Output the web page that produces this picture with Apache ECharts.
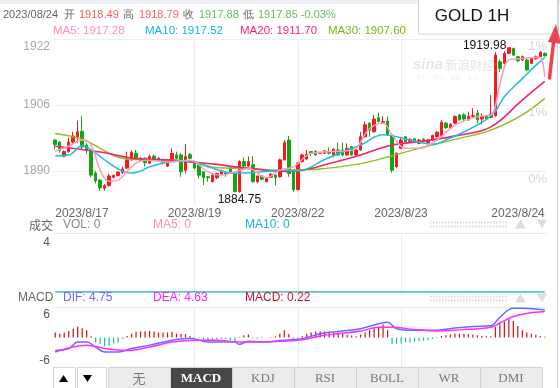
<!DOCTYPE html>
<html><head><meta charset="utf-8">
<script src="https://cdn.jsdelivr.net/npm/echarts@6/dist/echarts.min.js"></script>
<style>html,body{margin:0;padding:0;background:#fff;overflow:hidden}#c{width:560px;height:388px}</style>
</head><body><div id="c"></div>
<script>
// ---------- DATA ----------
// candles: [open, close, low, high]
const candles = [
[1897.5,1896.4,1895.2,1897.7],[1897.0,1894.9,1894.5,1897.3],[1893.6,1894.7,1893.3,1895.0],[1894.7,1897.0,1894.4,1898.1],
[1897.0,1898.5,1896.6,1899.5],[1898.3,1899.5,1896.8,1902.2],[1899.6,1895.8,1895.3,1903.3],[1896.3,1895.0,1894.2,1896.8],
[1895.0,1889.0,1888.5,1895.5],[1889.5,1887.6,1887.0,1890.0],[1887.8,1885.9,1885.2,1888.0],[1885.8,1886.5,1885.2,1886.8],
[1886.5,1888.8,1886.2,1889.4],[1888.5,1888.9,1888.2,1889.2],[1888.9,1889.7,1888.7,1890.0],[1889.6,1890.5,1889.3,1891.0],
[1890.7,1892.7,1890.5,1894.7],[1892.7,1894.5,1892.5,1895.0],[1894.3,1893.1,1892.9,1895.1],[1893.1,1892.5,1892.3,1893.4],
[1893.1,1892.0,1891.1,1893.3],[1891.9,1893.5,1891.7,1894.0],[1893.6,1892.7,1892.5,1894.0],[1893.1,1892.7,1892.4,1893.3],
[1892.7,1891.9,1891.6,1893.0],[1891.2,1892.3,1891.0,1892.6],[1892.7,1894.3,1892.5,1895.5],[1893.9,1893.1,1892.8,1894.7],
[1893.9,1889.8,1888.6,1894.3],[1890.2,1893.5,1889.4,1896.5],[1894.0,1893.1,1892.8,1894.4],[1891.9,1890.7,1890.4,1892.3],
[1891.5,1889.0,1888.2,1891.8],[1889.8,1888.4,1886.6,1890.0],[1888.6,1888.4,1887.4,1888.8],[1887.4,1889.0,1887.2,1889.2],
[1888.4,1889.4,1888.0,1889.6],[1889.3,1890.0,1889.1,1890.3],[1889.6,1889.3,1888.6,1889.8],[1890.7,1889.8,1889.6,1891.0],
[1889.4,1885.0,1884.9,1889.6],[1885.0,1892.3,1884.75,1892.6],[1892.3,1891.2,1891.0,1893.3],[1891.2,1892.3,1891.0,1893.5],
[1891.5,1887.4,1887.2,1893.6],[1887.4,1888.8,1887.0,1889.0],[1888.8,1888.0,1887.8,1889.0],[1887.4,1888.2,1887.2,1888.4],
[1888.5,1889.2,1888.3,1889.5],[1889.0,1888.4,1886.5,1889.2],[1888.6,1892.7,1888.4,1893.0],[1892.7,1896.9,1892.5,1897.5],
[1897.5,1889.4,1888.6,1898.5],[1890.2,1885.5,1885.0,1890.5],[1885.5,1891.9,1885.3,1892.2],[1892.3,1893.9,1892.0,1894.2],
[1892.9,1894.1,1892.7,1895.1],[1894.7,1894.3,1893.6,1894.8],[1894.8,1893.9,1893.7,1895.0],[1894.3,1894.3,1894.1,1894.5],
[1894.3,1894.9,1894.1,1895.1],[1894.7,1894.3,1894.0,1895.7],[1893.9,1895.3,1893.3,1895.5],[1895.1,1893.9,1893.7,1896.9],
[1895.1,1893.9,1893.6,1896.9],[1893.9,1895.5,1893.7,1896.7],[1895.9,1893.9,1893.7,1896.1],[1893.9,1895.1,1893.7,1895.3],
[1895.1,1898.3,1894.9,1899.5],[1898.3,1901.2,1898.1,1902.0],[1901.6,1899.9,1898.3,1901.8],[1899.5,1902.6,1899.3,1903.6],
[1902.9,1902.0,1901.8,1904.1],[1901.8,1902.0,1901.6,1903.3],[1902.1,1898.7,1898.5,1903.2],[1898.7,1890.2,1889.6,1898.9],
[1891.1,1894.3,1890.7,1894.5],[1895.5,1897.5,1895.3,1898.3],[1898.3,1897.1,1896.9,1898.5],[1897.1,1897.7,1896.9,1898.0],
[1897.8,1897.0,1896.8,1898.0],[1896.7,1897.5,1896.5,1897.8],[1897.7,1897.1,1896.9,1897.9],[1896.9,1897.5,1896.7,1897.8],
[1897.5,1898.6,1897.3,1898.8],[1898.3,1899.4,1898.1,1899.7],[1898.6,1901.8,1898.4,1902.4],[1901.6,1900.5,1900.2,1901.9],
[1900.4,1901.3,1900.2,1901.6],[1901.6,1903.2,1901.4,1903.5],[1903.6,1902.4,1902.2,1903.8],[1903.6,1902.6,1902.0,1904.0],
[1902.4,1903.2,1902.2,1904.4],[1903.2,1903.4,1903.0,1905.2],[1904.0,1902.4,1901.6,1904.8],[1902.6,1903.2,1901.3,1904.0],
[1903.4,1902.6,1902.4,1903.6],[1903.0,1903.8,1902.8,1908.4],[1903.4,1918.1,1903.2,1918.8],[1916.5,1914.9,1914.0,1917.0],
[1916.1,1918.5,1915.8,1919.0],[1918.5,1919.9,1918.3,1919.98],[1919.7,1918.1,1917.9,1919.9],[1917.7,1916.7,1916.4,1917.9],
[1916.9,1917.7,1916.7,1918.0],[1916.9,1914.5,1914.2,1917.2],[1916.1,1917.3,1915.9,1917.6],[1917.2,1917.7,1917.0,1918.0],
[1917.7,1918.8,1917.5,1919.0],[1918.49,1917.88,1917.85,1918.79]
];
const categories = candles.map((c, i) => 'K' + i);
const dayLabels = ['2023/8/17','2023/8/19','2023/8/22','2023/8/23','2023/8/24'];
const dayLabelIdx = [0, 31, 54, 77, 109];
const dayLineIdx = [31, 54, 77];
const priceTicks = [1890, 1906, 1922];

// moving averages: [candle index, value]
const ma5Pts = [[0,1894.8],[3,1896.0],[6,1897.5],[8,1896.3],[10,1890.2],[12,1887.5],[14,1887.8],[16,1889.9],[18,1891.9],[20,1892.6],[25,1892.2],[30,1892.6],[34,1889.8],[37,1889.0],[40,1889.8],[43,1890.6],[47,1888.4],[50,1890.2],[53,1891.0],[57,1894.3],[61,1894.7],[66,1895.0],[70,1900.3],[73,1901.6],[75,1898.7],[78,1895.5],[81,1895.5],[85,1897.5],[89,1901.1],[94,1903.2],[97,1903.6],[99,1911.0],[101,1916.9],[104,1917.3],[107,1917.5],[108,1917.5],[109,1912.8]];
const ma10Pts = [[0,1893.7],[3,1893.9],[6,1896.1],[8,1895.1],[12,1891.9],[15,1889.9],[17,1889.5],[19,1890.0],[21,1891.0],[25,1892.1],[30,1892.4],[34,1891.0],[40,1889.5],[46,1889.8],[50,1890.2],[54,1890.0],[60,1892.8],[64,1894.6],[68,1896.3],[73,1898.8],[76,1898.3],[79,1897.5],[84,1896.5],[88,1898.0],[92,1900.0],[96,1902.5],[98,1904.5],[100,1908.0],[104,1912.4],[107,1915.6],[109,1917.5]];
const ma20Pts = [[0,1896.0],[10,1894.6],[18,1893.0],[25,1892.7],[31,1892.1],[36,1891.6],[40,1891.0],[47,1890.2],[50,1889.9],[55,1890.2],[61,1891.8],[68,1893.9],[75,1896.3],[81,1897.1],[90,1898.7],[97,1900.7],[104,1907.2],[109,1911.7]];
const ma30Pts = [[0,1899.1],[6,1897.7],[10,1895.5],[14,1893.3],[18,1892.8],[25,1892.7],[31,1892.2],[36,1890.8],[43,1890.6],[50,1890.2],[55,1890.3],[59,1890.5],[68,1891.8],[75,1893.7],[81,1895.5],[90,1897.9],[97,1899.9],[104,1903.6],[109,1907.6]];

const volume = [0,0,0,0,0,0,0,0,0,0,0,0,0,0,0,0,0,0,0,0,0,0,0,0,0,0,0,0,0,0,0,0,0,0,0,0,0,0,0,0,0,0,0,0,0,0,0,0,0,0,0,0,0,0,0,0,0,0,0,0,0,0,0,0,0,0,0,0,0,0,0,0,0,0,0,0,0,0,0,0,0,0,0,0,0,0,0,0,0,0,0,0,0,0,0,0,0,0,0,0,0,0,0,0,0,0,0,0,0,0];
const volTicks = [4];

const macdHist = [1.3,1.0,1.3,1.7,2.3,2.8,2.4,1.9,0.3,-1.3,-1.7,-2.3,-2.2,-1.6,-1.3,-0.4,
0.4,1.0,1.5,1.6,1.6,1.7,1.6,1.3,1.3,1.3,1.5,1.0,0.9,0.9,0.4,0.1,
-0.2,-0.6,-0.7,-0.6,-0.5,-0.4,-0.4,-0.7,-1.0,0.1,0.6,0.8,-0.2,-0.3,-0.2,0.0,0.1,0.3,1.0,
1.9,0.9,-0.3,0.1,0.4,0.9,1.3,1.6,1.6,1.6,1.5,1.3,1.3,1.0,0.7,0.5,0.3,
0.8,1.3,1.9,2.4,2.8,3.4,2.0,-1.7,-1.7,-1.6,-1.3,-1.3,-1.1,-1.0,-0.9,-0.7,-0.4,-0.1,
0.4,0.6,0.8,1.0,1.0,1.0,0.9,0.7,0.6,0.4,0.3,0.3,
2.8,3.5,4.2,4.8,4.3,3.0,1.9,1.3,1.0,0.7,0.4,0.22];
const difPts = [[0,-3.4],[3,-2.9],[5,-1.2],[7,-1.2],[9,-2.5],[11,-3.8],[14,-3.8],[17,-2.9],[21,-2.0],[26,-0.7],[30,-0.2],[34,-1.2],[40,-1.2],[41,-1.8],[43,-1.0],[47,-1.2],[50,-0.8],[55,-0.3],[59,1.0],[63,1.6],[68,2.3],[72,3.6],[74,4.0],[76,2.3],[80,1.9],[85,1.9],[89,2.5],[93,2.9],[97,3.1],[99,5.3],[102,7.7],[104,7.7],[109,7.2]];
const deaPts = [[0,-3.8],[7,-2.0],[11,-2.9],[16,-3.4],[21,-2.5],[26,-1.2],[31,-0.7],[36,-0.7],[41,-1.2],[46,-1.2],[50,-1.0],[55,-0.6],[59,0.4],[63,1.0],[68,1.7],[72,2.7],[75,2.7],[80,2.1],[85,1.7],[90,2.0],[97,2.7],[99,3.8],[102,5.5],[105,6.3],[109,6.8]];
const macdTicks = [-6, 6];
const tabs = ['无','MACD','KDJ','RSI','BOLL','WR','DMI'];

// ---------- BUILD ----------
function sparse(pts) {
  const arr = categories.map(() => null);
  pts.forEach(p => { arr[p[0]] = p[1]; });
  return arr;
}
const FONT = '"Liberation Sans", Arial, sans-serif';
const L = 53, R = 13;
const grids = [
  {left: L, right: R, top: 39, height: 166},
  {left: L, right: R, top: 233, height: 59},
  {left: L, right: R, top: 307, height: 61}
];
function xAxis(gi, labels) {
  return {
    type: 'category', gridIndex: gi, data: categories, boundaryGap: true,
    axisLine: {show: false}, axisTick: {show: false},
    axisLabel: labels ? {
      show: true, interval: (i) => dayLabelIdx.indexOf(i) >= 0,
      formatter: (v, i) => dayLabels[dayLabelIdx.indexOf(i)] || '',
      color: '#666', fontSize: 12, fontFamily: FONT, margin: 3,
      alignMinLabel: 'left', alignMaxLabel: 'right'
    } : {show: false},
    splitLine: {show: true, alignWithLabel: true, interval: (i) => dayLineIdx.indexOf(i) >= 0,
      lineStyle: {color: '#ececec', width: 1}}
  };
}
const chart = echarts.init(document.getElementById('c'), null, {renderer: 'canvas'});
const ma = (name, pts, color, w) => ({
  name, type: 'line', xAxisIndex: 0, yAxisIndex: 0, data: sparse(pts), smooth: 0.4,
  connectNulls: true, showSymbol: false, symbol: 'none', z: 5,
  lineStyle: {color, width: w || 1.4}, itemStyle: {color}
});
const option = {
  animation: false,
  backgroundColor: '#fff',
  grid: grids,
  xAxis: [xAxis(0, true), xAxis(1, false), xAxis(2, false)],
  yAxis: [
    {type: 'value', gridIndex: 0, min: 1922 - 166 / 4.125, max: 1922,
      axisLine: {show: false}, axisTick: {show: false, customValues: priceTicks},
      axisLabel: {customValues: priceTicks, color: '#a8a8a8', fontSize: 12, fontFamily: FONT, margin: 3,
        formatter: (v) => v === 1922 ? '{t|1922}' : String(v),
        rich: {t: {padding: [16, 0, 0, 0], color: '#a8a8a8', fontSize: 12, fontFamily: FONT}}},
      splitLine: {show: true, lineStyle: {color: '#eeeeee'}}},
    {type: 'value', gridIndex: 1, min: 0, max: 4.8,
      axisLine: {show: false}, axisTick: {show: false, customValues: [4.8]},
      axisLabel: {customValues: volTicks, color: '#555', fontSize: 12, fontFamily: FONT, margin: 3},
      splitLine: {show: true, lineStyle: {color: '#e8e8e8'}}},
    {type: 'value', gridIndex: 2, min: -8, max: 8,
      axisLine: {show: false}, axisTick: {show: false, customValues: [8]},
      axisLabel: {customValues: macdTicks, color: '#555', fontSize: 12, fontFamily: FONT, margin: 3},
      splitLine: {show: true, lineStyle: {color: '#e8e8e8'}}}
  ],
  series: [
    {type: 'candlestick', xAxisIndex: 0, yAxisIndex: 0, data: candles, barWidth: 3,
      itemStyle: {color: '#f31c1c', color0: '#14a414', borderColor: '#f31c1c', borderColor0: '#14a414', borderWidth: 1}},
    ma('MA30', ma30Pts, '#8cc21f', 1.4),
    ma('MA20', ma20Pts, '#f2246f', 1.6),
    ma('MA10', ma10Pts, '#21bde0', 1.5),
    ma('MA5', ma5Pts, '#ff9abb', 1.5),
    {type: 'line', xAxisIndex: 1, yAxisIndex: 1, data: volume, showSymbol: false, symbol: 'none',
      lineStyle: {color: '#1fb3c6', width: 1.5}},
    {type: 'bar', xAxisIndex: 2, yAxisIndex: 2, data: macdHist, barWidth: 1.2,
      itemStyle: {color: (p) => p.value >= 0 ? '#cc1010' : '#1dc28f'}},
    {type: 'line', xAxisIndex: 2, yAxisIndex: 2, data: sparse(difPts), smooth: 0.4, connectNulls: true,
      showSymbol: false, symbol: 'none', lineStyle: {color: '#6a6aff', width: 1.5}},
    {type: 'line', xAxisIndex: 2, yAxisIndex: 2, data: sparse(deaPts), smooth: 0.4, connectNulls: true,
      showSymbol: false, symbol: 'none', lineStyle: {color: '#ff2bff', width: 1.5}}
  ]
};
chart.setOption(option);

// ---------- GRAPHICS ----------
function t(x, y, s, color, size, extra) {
  extra = extra || {};
  return {type: 'text', silent: true, z: 100,
    style: {x, y, text: s, fill: color,
      font: (extra.weight ? extra.weight + ' ' : '') + (extra.style ? extra.style + ' ' : '') + size + 'px ' + (extra.family || FONT),
      align: extra.align || 'left', verticalAlign: 'middle'}};
}
const G = [];
// header
G.push({type: 'rect', silent: true, z: 90, shape: {x: 0, y: 0, width: 560, height: 4}, style: {fill: '#eef0f6'}});
G.push(t(3, 14.5, '2023/08/24', '#666', 11));
G.push(t(64, 14.5, '开', '#666', 11));
G.push(t(79, 14.5, '1918.49', '#f06464', 11));
G.push(t(123, 14.5, '高', '#666', 11));
G.push(t(139, 14.5, '1918.79', '#f06464', 11));
G.push(t(183, 14.5, '收', '#666', 11));
G.push(t(199, 14.5, '1917.88', '#66bb5c', 11));
G.push(t(243, 14.5, '低', '#666', 11));
G.push(t(258, 14.5, '1917.85 -0.03%', '#66bb5c', 11));
G.push(t(53, 31, 'MA5: 1917.28', '#ff8fb5', 11.5));
G.push(t(145, 31, 'MA10: 1917.52', '#14b5d8', 11.5));
G.push(t(240, 31, 'MA20: 1911.70', '#ff1f6e', 11.5));
G.push(t(328, 31, 'MA30: 1907.60', '#7cb518', 11.5));
// title box
G.push({type: 'rect', silent: true, z: 95, shape: {x: 418.5, y: -1, width: 140, height: 35}, style: {fill: '#fff', stroke: '#d6d6d6', lineWidth: 1}});
G.push(t(472, 16, 'GOLD 1H', '#111', 17, {align: 'center'}));
G.push({type: 'line', silent: true, z: 96, shape: {x1: 557.5, y1: 0, x2: 557.5, y2: 388}, style: {stroke: '#c9d6ee', lineWidth: 1}});
// watermark
G.push(t(413, 65, 'sina', '#e6e6e6', 15, {weight: 'bold', style: 'italic'}));
G.push(t(445, 65, '新浪财经', '#e6e6e6', 12.5, {family: '"Noto Sans CJK SC", sans-serif'}));
G.push(t(416, 77, '文化 · 资讯 · 数据 · 服务', '#eeeeee', 5, {family: '"Noto Sans CJK SC", sans-serif'}));
// right percent labels
G.push(t(547, 46, '1%', '#d6d6d6', 13, {align: 'right'}));
G.push(t(547, 112, '1%', '#d6d6d6', 13, {align: 'right'}));
G.push(t(547, 179, '0%', '#d6d6d6', 13, {align: 'right'}));
// section headers
G.push(t(29, 225, '成交', '#666', 12, {family: '"Noto Sans CJK SC", sans-serif'}));
G.push(t(63, 225, 'VOL: 0', '#888', 12));
G.push(t(153, 225, 'MA5: 0', '#ff8fb5', 12));
G.push(t(245, 225, 'MA10: 0', '#14b5d8', 12));
G.push(t(18, 298, 'MACD', '#666', 12));
G.push(t(63, 298, 'DIF: 4.75', '#6a6aff', 12));
G.push(t(153, 298, 'DEA: 4.63', '#ff22ff', 12));
G.push(t(245, 298, 'MACD: 0.22', '#c8102e', 12));
[222, 296].forEach(y => {
  G.push({type: 'line', silent: true, z: 90, shape: {x1: 430, y1: y + 0.5, x2: 507, y2: y + 0.5}, style: {stroke: '#dadada', lineWidth: 2, lineDash: [1.5, 1.5]}});
  G.push({type: 'line', silent: true, z: 90, shape: {x1: 430, y1: y + 4.5, x2: 507, y2: y + 4.5}, style: {stroke: '#dadada', lineWidth: 2, lineDash: [1.5, 1.5]}});
  G.push({type: 'polygon', silent: true, z: 90, shape: {points: [[515, y + 6.5], [520.5, y - 2.5], [526, y + 6.5]]}, style: {fill: '#dddddd'}});
  G.push({type: 'polygon', silent: true, z: 90, shape: {points: [[537, y - 2.5], [547, y - 2.5], [542, y + 6.5]]}, style: {fill: '#dddddd'}});
});
// tab bar
G.push({type: 'rect', silent: true, z: 90, shape: {x: 53.5, y: 367.5, width: 22, height: 22}, style: {fill: '#fff', stroke: '#d8d8d8'}});
G.push({type: 'rect', silent: true, z: 90, shape: {x: 77.5, y: 367.5, width: 29, height: 22}, style: {fill: '#fff', stroke: '#d8d8d8'}});
G.push({type: 'polygon', silent: true, z: 91, shape: {points: [[59, 382], [63.5, 375], [68, 382]]}, style: {fill: '#000'}});
G.push({type: 'polygon', silent: true, z: 91, shape: {points: [[83, 375], [92, 375], [87.5, 382]]}, style: {fill: '#000'}});
tabs.forEach((name, k) => {
  const x = 108 + k * 62;
  const active = name === 'MACD';
  G.push({type: 'rect', silent: true, z: 90, shape: {x: x + 0.5, y: 367.5, width: 62, height: 22},
    style: {fill: active ? '#474747' : '#ececec', stroke: '#d2d2d2'}});
  G.push(t(x + 31, 378.5, name, active ? '#fff' : '#7a7a7a', 13,
    {align: 'center', weight: active ? 'bold' : '', family: name === '无' ? '"Noto Sans CJK SC", serif' : '"Liberation Serif", "DejaVu Serif", serif'}));
});
// extreme labels from candle data
let hiI = 0, loI = 0;
candles.forEach((c, i) => { if (c[3] > candles[hiI][3]) hiI = i; if (c[2] < candles[loI][2]) loI = i; });
const ph = chart.convertToPixel({xAxisIndex: 0, yAxisIndex: 0}, [hiI, candles[hiI][3]]);
const pl = chart.convertToPixel({xAxisIndex: 0, yAxisIndex: 0}, [loI, candles[loI][2]]);
G.push(t(ph[0] - 2.5, ph[1] - 2, String(candles[hiI][3]), '#111', 12, {align: 'right'}));
G.push(t(pl[0], pl[1] + 7, String(candles[loI][2]), '#111', 12, {align: 'center'}));
// red arrow annotation
G.push({type: 'polyline', silent: true, z: 99, shape: {points: [[549.5, 78], [554, 38]]}, style: {stroke: '#ee4450', lineWidth: 3.5, lineCap: 'round'}});
G.push({type: 'polygon', silent: true, z: 99, shape: {points: [[548, 42], [556, 24], [561, 44]]}, style: {fill: '#ee4450'}});

chart.setOption({graphic: G});
</script>
</body></html>
